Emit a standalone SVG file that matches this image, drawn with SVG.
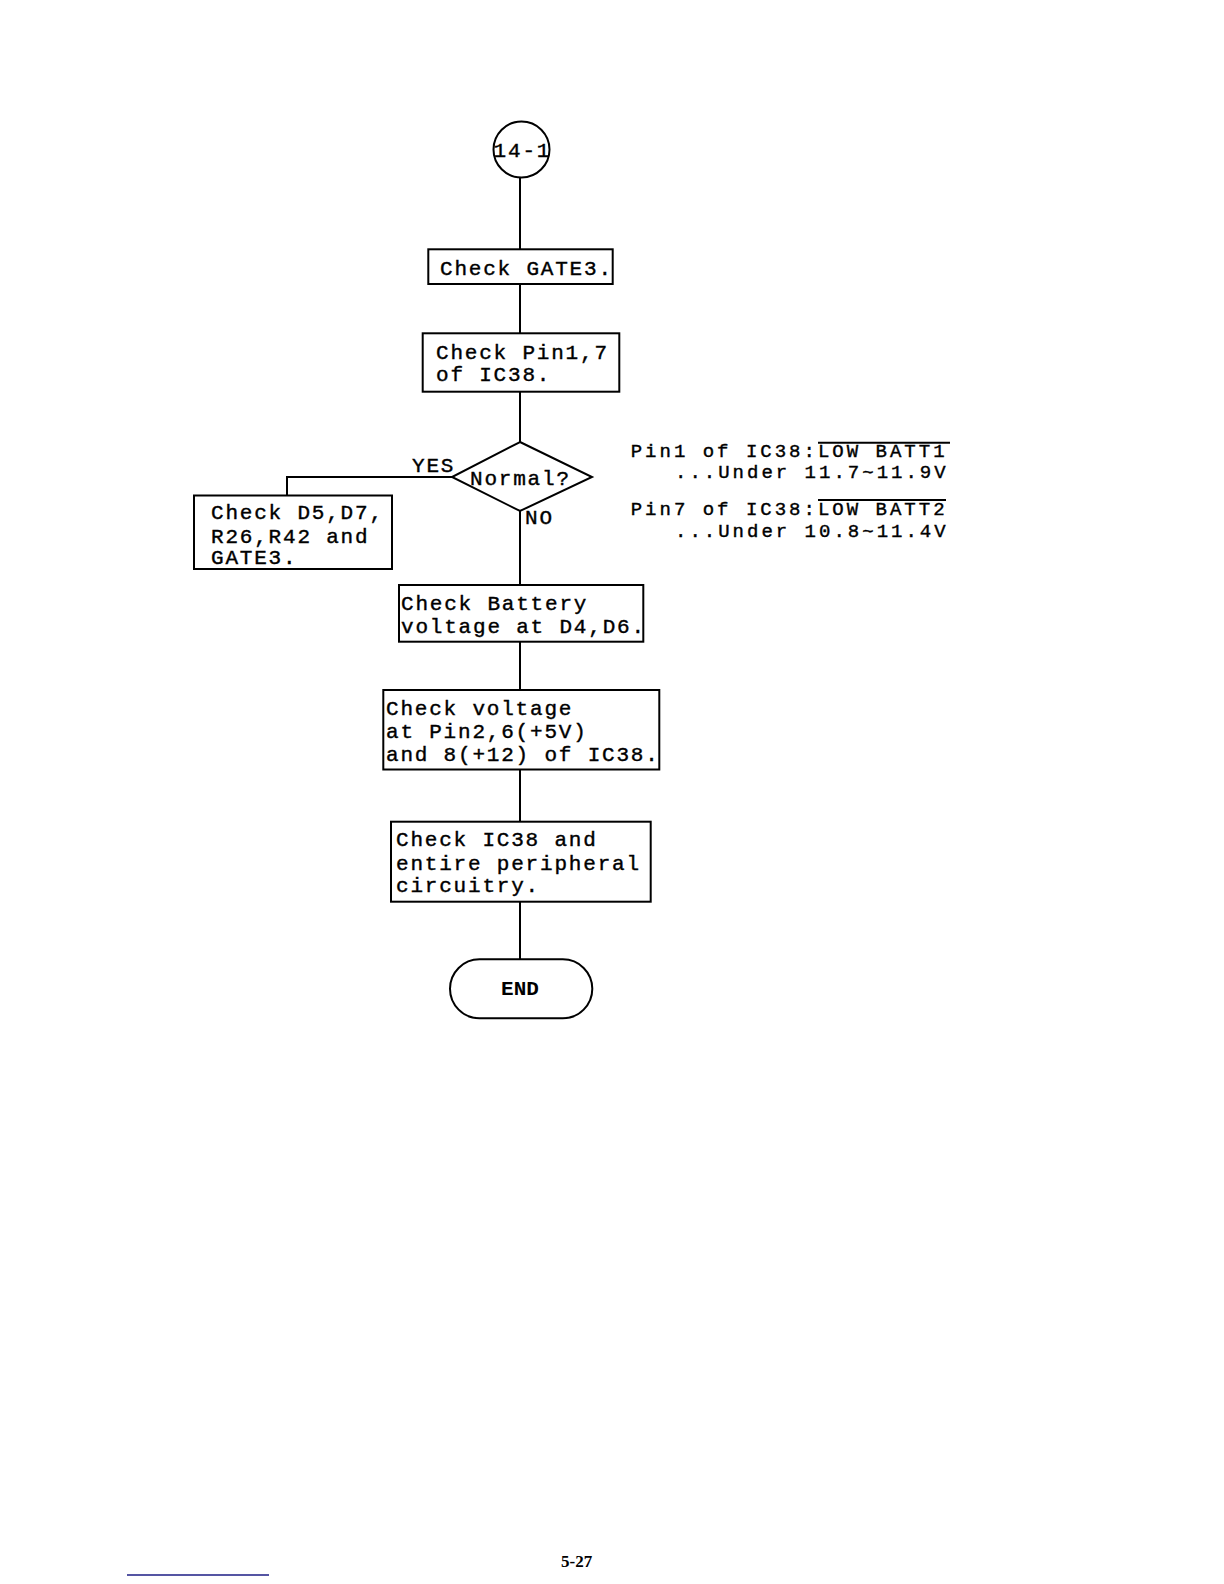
<svg xmlns="http://www.w3.org/2000/svg" width="1224" height="1584" viewBox="0 0 1224 1584">
<style>
  .box { fill: #fff; stroke: #000; stroke-width: 2; }
  .conn { fill: none; stroke: #000; stroke-width: 2; }
  .t { font-family: "Liberation Mono", "DejaVu Sans Mono", monospace; font-size: 21px; letter-spacing: 1.8px; fill: #000; stroke: #000; stroke-width: 0.4; }
  .n { font-family: "Liberation Mono", "DejaVu Sans Mono", monospace; font-size: 19px; letter-spacing: 3px; fill: #000; stroke: #000; stroke-width: 0.4; }
  .end { font-family: "Liberation Mono", "DejaVu Sans Mono", monospace; font-size: 21px; font-weight: bold; fill: #000; }
  .ov { stroke: #000; stroke-width: 2; }
</style>
<rect width="1224" height="1584" fill="#fff"/>
<g id="connectors">
  <line class="conn" x1="520" y1="177.5" x2="520" y2="249.3"/>
  <line class="conn" x1="520" y1="284" x2="520" y2="333.3"/>
  <line class="conn" x1="520" y1="391.7" x2="520" y2="442"/>
  <polyline class="conn" points="452,477 287,477 287,495.5"/>
  <line class="conn" x1="520" y1="511" x2="520" y2="585"/>
  <line class="conn" x1="520" y1="641.7" x2="520" y2="690"/>
  <line class="conn" x1="520" y1="769.5" x2="520" y2="821.7"/>
  <line class="conn" x1="520" y1="901.7" x2="520" y2="959.3"/>
</g>
<g id="start">
  <circle class="box" cx="521.5" cy="149.5" r="28"/>
  <text class="t" x="522.4" y="157" text-anchor="middle">14-1</text>
</g>
<g id="check-gate3">
  <rect class="box" x="428.3" y="249.3" width="184.4" height="34.7"/>
  <text class="t" x="440" y="275">Check GATE3.</text>
</g>
<g id="check-pin17">
  <rect class="box" x="422.7" y="333.3" width="196.6" height="58.4"/>
  <text class="t" x="436" y="359.3">Check Pin1,7</text>
  <text class="t" x="436" y="381">of IC38.</text>
</g>
<g id="normal">
  <polygon class="box" points="520,442 592,477 520,511 452,477"/>
  <text class="t" x="470" y="485">Normal?</text>
  <text class="t" x="412" y="472">YES</text>
  <text class="t" x="525" y="524">NO</text>
</g>
<g id="check-d5">
  <rect class="box" x="194" y="495.5" width="198" height="73.5"/>
  <text class="t" x="211" y="519.3">Check D5,D7,</text>
  <text class="t" x="211" y="542.5">R26,R42 and</text>
  <text class="t" x="211" y="564">GATE3.</text>
</g>
<g id="check-battery">
  <rect class="box" x="399" y="585" width="244.3" height="56.7"/>
  <text class="t" x="401" y="610">Check Battery</text>
  <text class="t" x="401" y="632.5">voltage at D4,D6.</text>
</g>
<g id="check-voltage">
  <rect class="box" x="383.3" y="690" width="276" height="79.5"/>
  <text class="t" x="386" y="715">Check voltage</text>
  <text class="t" x="386" y="738.3">at Pin2,6(+5V)</text>
  <text class="t" x="386" y="760.7">and 8(+12) of IC38.</text>
</g>
<g id="check-ic38">
  <rect class="box" x="391" y="821.7" width="259.7" height="80"/>
  <text class="t" x="396" y="846">Check IC38 and</text>
  <text class="t" x="396" y="869.5">entire peripheral</text>
  <text class="t" x="396" y="891.7">circuitry.</text>
</g>
<g id="end">
  <rect class="box" x="450" y="959.3" width="142.3" height="59" rx="29.5" ry="29.5"/>
  <text class="end" x="520" y="995" text-anchor="middle">END</text>
</g>
<g id="notes">
  <text class="n" x="630.7" y="456.7">Pin1 of IC38:LOW BATT1</text>
  <line class="ov" x1="818" y1="442.7" x2="950" y2="442.7"/>
  <text class="n" x="675" y="478.3">...Under 11.7~11.9V</text>
  <text class="n" x="630.7" y="515">Pin7 of IC38:LOW BATT2</text>
  <line class="ov" x1="818" y1="500" x2="946" y2="500"/>
  <text class="n" x="675" y="536.7">...Under 10.8~11.4V</text>
</g>
<g id="footer">
  <text x="561" y="1567" font-family="Liberation Serif, serif" font-size="17" font-weight="bold">5-27</text>
  <line x1="127" y1="1575" x2="269" y2="1575" stroke="#1c1c84" stroke-width="1.5"/>
</g>
</svg>
